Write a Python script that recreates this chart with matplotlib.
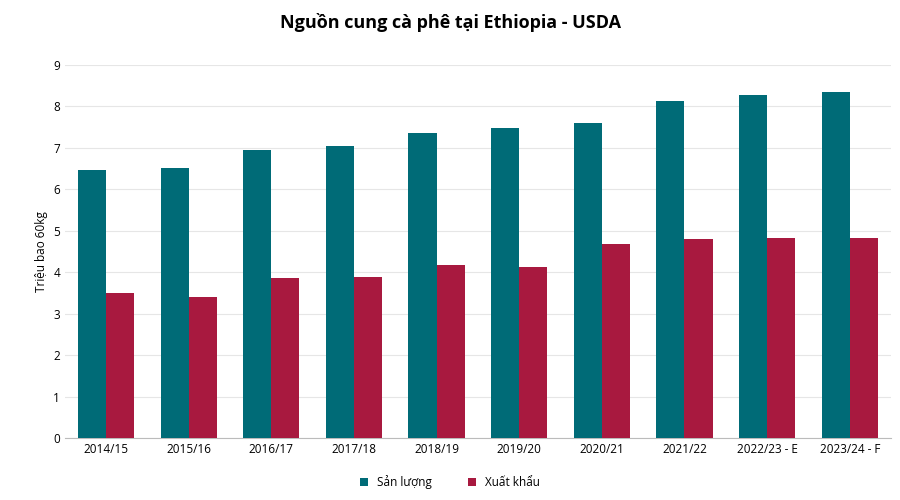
import matplotlib.pyplot as plt
import numpy as np

categories = ["2014/15","2015/16","2016/17","2017/18","2018/19","2019/20","2020/21","2021/22","2022/23 - E","2023/24 - F"]
san_luong = [6.47, 6.51, 6.94, 7.05, 7.35, 7.47, 7.60, 8.14, 8.27, 8.34]
xuat_khau = [3.49, 3.41, 3.85, 3.89, 4.17, 4.13, 4.67, 4.80, 4.82, 4.83]

plt.rcParams['font.family'] = ['Open Sans', 'DejaVu Sans']
fig = plt.figure(figsize=(9, 5), dpi=100)
ax = fig.add_axes([0.072, 0.124, 0.918, 0.746])
x = np.arange(len(categories))
w = 0.34
ax.bar(x - w/2, san_luong, w, color='#006B77', label='Sản lượng', zorder=3)
ax.bar(x + w/2, xuat_khau, w, color='#A8193F', label='Xuất khẩu', zorder=3)
ax.set_xticks(x)
ax.set_xticklabels(categories, fontsize=8.5)
ax.set_ylim(0, 9)
ax.set_yticks(range(10))
ax.tick_params(axis='y', labelsize=8.5, length=0)
ax.tick_params(axis='x', length=0)
ax.set_xlim(-0.5, len(categories) - 0.5)
ax.grid(axis='y', color='#e6e6e6', linewidth=0.8, zorder=0)
for s in ['top', 'right', 'left']:
    ax.spines[s].set_visible(False)
ax.spines['bottom'].set_color('#bbbbbb')
ax.set_ylabel('Triệu bao 60kg', fontsize=8.5)
fig.suptitle('Nguồn cung cà phê tại Ethiopia - USDA', fontsize=13, fontweight='bold', y=0.975)
fig.legend(loc='lower center', ncol=2, frameon=False, fontsize=8.5, bbox_to_anchor=(0.5, 0.0),
           handlelength=0.7, handleheight=0.7, columnspacing=3)
fig.savefig('out.png')
